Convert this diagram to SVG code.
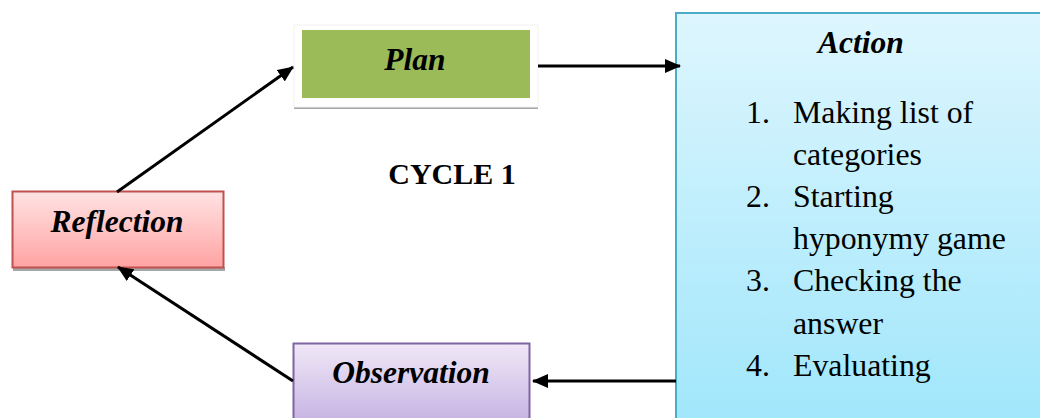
<svg xmlns="http://www.w3.org/2000/svg" width="1040" height="418" viewBox="0 0 1040 418">
<defs>
<linearGradient id="gRef" x1="0" y1="0" x2="0" y2="1"><stop offset="0" stop-color="#ffe3e3"/><stop offset="1" stop-color="#ffa3a3"/></linearGradient>
<linearGradient id="gObs" x1="0" y1="0" x2="0" y2="1"><stop offset="0" stop-color="#efe8f7"/><stop offset="1" stop-color="#c6b2e2"/></linearGradient>
<linearGradient id="gAct" gradientUnits="userSpaceOnUse" x1="0" y1="13" x2="0" y2="430"><stop offset="0" stop-color="#def6fe"/><stop offset="1" stop-color="#9fe6fb"/></linearGradient>
<marker id="ah" markerWidth="10" markerHeight="10" refX="9" refY="5" orient="auto" markerUnits="userSpaceOnUse" viewBox="0 0 10 10"><path d="M0,0 L10,5 L0,10 z" fill="#000"/></marker>
<marker id="ah2" markerWidth="16" markerHeight="14" refX="15" refY="7" orient="auto" markerUnits="userSpaceOnUse" viewBox="0 0 16 14"><path d="M0,0 L16,7 L0,14 z" fill="#000"/></marker>
</defs>
<style>
.lbl{font-family:"Liberation Serif","Times New Roman",serif;font-weight:bold;font-style:italic;font-size:31.5px;fill:#000}
.item{font-family:"Liberation Serif","Times New Roman",serif;font-size:31.8px;fill:#000}
.conn{stroke:#000;stroke-width:3;fill:none;marker-end:url(#ah2)}
</style>
<rect width="1040" height="418" fill="#fff"/>
<g id="plan">
<rect x="294" y="106" width="244" height="3" fill="#a6a6a6"/>
<rect x="294" y="25" width="244" height="82" fill="#fff" stroke="#f2f2f2" stroke-width="1"/>
<rect x="302" y="30" width="228" height="68" fill="#9bbb59"/>
<text class="lbl" x="415" y="70" text-anchor="middle" font-size="30.5">Plan</text>
</g>
<g id="reflection">
<rect x="13" y="267" width="212" height="4" fill="#a6a6a6"/>
<rect x="12.5" y="191.5" width="211" height="76" fill="url(#gRef)" stroke="#c0504d" stroke-width="2"/>
<text class="lbl" x="117" y="232" text-anchor="middle">Reflection</text>
</g>
<g id="observation">
<rect x="293.5" y="343.5" width="236" height="80" fill="url(#gObs)" stroke="#8064a2" stroke-width="2"/>
<text class="lbl" x="411" y="383" text-anchor="middle">Observation</text>
</g>
<g id="action">
<rect x="676" y="13" width="370" height="420" fill="url(#gAct)" stroke="#4bacc6" stroke-width="2"/>
<text class="lbl" x="861" y="53" text-anchor="middle" font-size="32">Action</text>
<text class="item" x="746" y="123">1.</text><text class="item" x="793" y="123">Making list of</text>
<text class="item" x="793" y="165">categories</text>
<text class="item" x="746" y="207">2.</text><text class="item" x="793" y="207">Starting</text>
<text class="item" x="793" y="249">hyponymy game</text>
<text class="item" x="746" y="291">3.</text><text class="item" x="793" y="291">Checking the</text>
<text class="item" x="793" y="334">answer</text>
<text class="item" x="746" y="376">4.</text><text class="item" x="793" y="376">Evaluating</text>
</g>
<g id="cycle">
<text x="452" y="184" text-anchor="middle" font-family="'Liberation Serif','Times New Roman',serif" font-weight="bold" font-size="30">CYCLE 1</text>
</g>
<g id="connectors">
<line class="conn" x1="538" y1="66" x2="680" y2="66"/>
<line class="conn" x1="676" y1="381" x2="533" y2="381"/>
<line class="conn" x1="293" y1="381" x2="118" y2="267"/>
<line class="conn" x1="117" y1="192" x2="293" y2="67"/>
</g>
</svg>
